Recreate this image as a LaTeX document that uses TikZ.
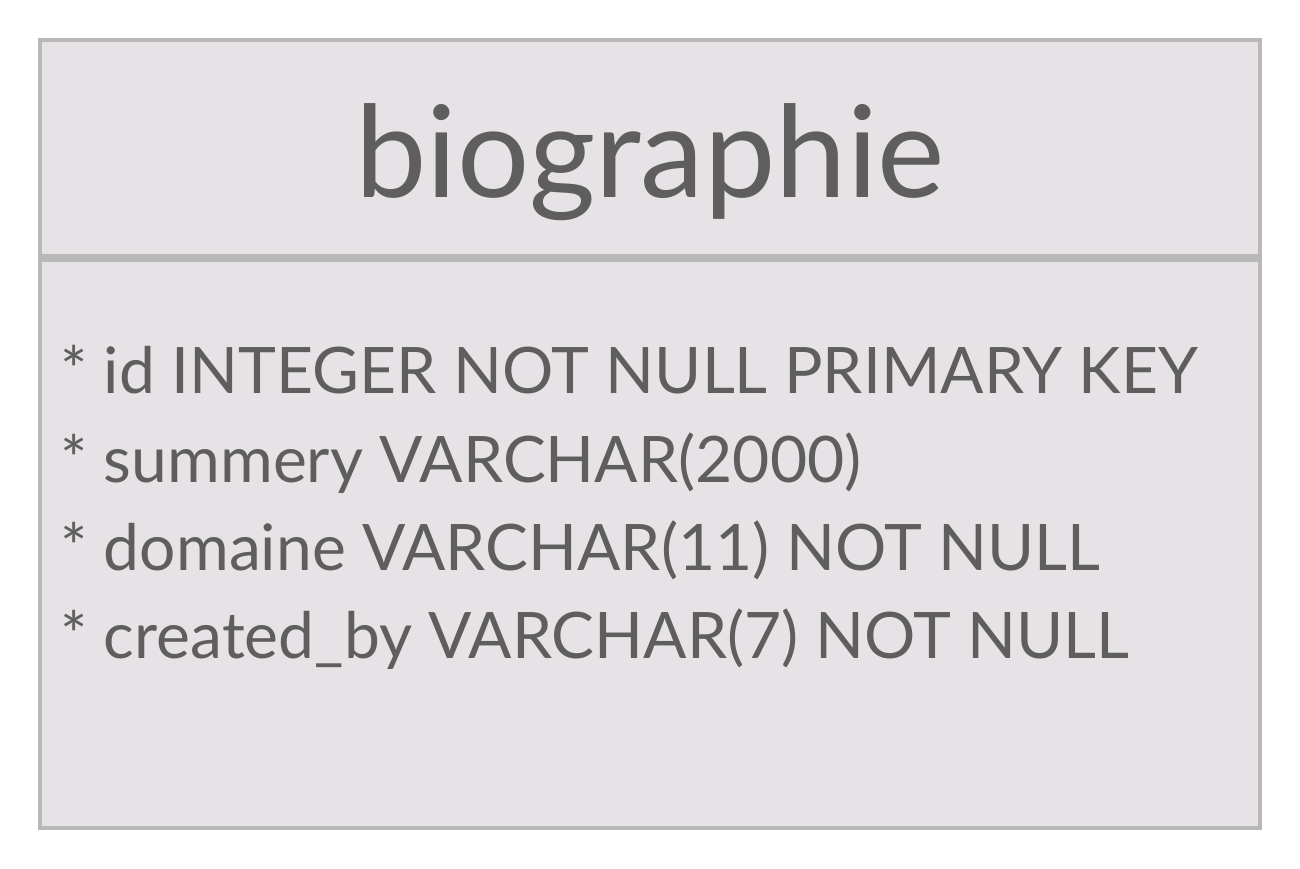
\documentclass[tikz,border=0pt]{standalone}
\usepackage{fontspec}
\setmainfont{Lato}
\usetikzlibrary{positioning}

\definecolor{boxfill}{HTML}{E6E2E5}
\definecolor{boxline}{HTML}{B8B8B8}
\definecolor{ink}{HTML}{5E5E5E}

\tikzset{
  tablebox/.style={draw=boxline,fill=boxfill,line width=2.3pt},
  title/.style={text=ink,font=\fontsize{72.6}{80}\selectfont,anchor=base},
  field/.style={text=ink,font=\fontsize{36.5}{40}\selectfont,anchor=base west,inner sep=0pt}
}

\begin{document}
\begin{tikzpicture}[x=0.02cm,y=-0.02cm]
  \useasboundingbox (0,0) rectangle (1300,868);
  % table frame
  \draw[tablebox] (40,40) rectangle (1260,256);
  \draw[tablebox] (40,260) rectangle (1260,828);
  \node[title] (name) at (650,197) {biographie};
  % columns
  \node[field] (f1) at (60,393) {* id INTEGER NOT NULL PRIMARY KEY};
  \node[field] (f2) at (60,482) {* summery VARCHAR(2000)};
  \node[field] (f3) at (60,570) {* domaine VARCHAR(11) NOT NULL};
  \node[field] (f4) at (60,658) {* created\_by VARCHAR(7) NOT NULL};
\end{tikzpicture}
\end{document}
